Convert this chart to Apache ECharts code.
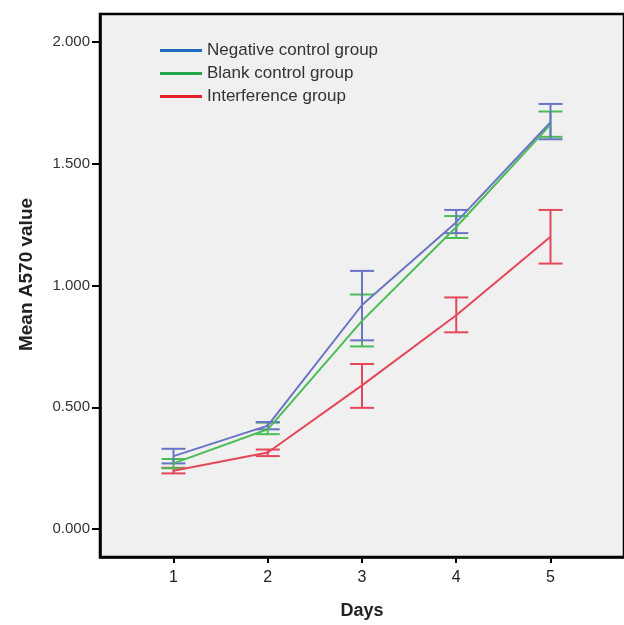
<!DOCTYPE html>
<html>
<head>
<meta charset="utf-8">
<script src="https://cdn.jsdelivr.net/npm/echarts@6/dist/echarts.min.js"></script>
<style>
	html, body { margin: 0; padding: 0; background: #fff; }
	#main { width: 624px; height: 625px; }
</style>
</head>
<body>
<div id="main"></div>
<script>
	// values
	var days = [1, 2, 3, 4, 5];
	var groupNames = ['Negative control group', 'Blank control group', 'Interference group'];

	var negMean = [0.30, 0.425, 0.92, 1.26, 1.67];
	var negLow = [0.27, 0.41, 0.775, 1.215, 1.60];
	var negHigh = [0.33, 0.44, 1.06, 1.31, 1.745];

	var blankMean = [0.27, 0.41, 0.855, 1.24, 1.66];
	var blankLow = [0.25, 0.39, 0.75, 1.195, 1.61];
	var blankHigh = [0.288, 0.437, 0.963, 1.285, 1.714];

	var interMean = [0.24, 0.315, 0.59, 0.878, 1.20];
	var interLow = [0.229, 0.30, 0.498, 0.808, 1.09];
	var interHigh = [0.252, 0.327, 0.678, 0.951, 1.31];

	var yTicks = [0, 0.5, 1, 1.5, 2];

	var lineColors = ['#6a74c4', '#4cbd55', '#e5475a'];
	var legendColors = ['#1f6fbf', '#22a84a', '#e8202a'];
	var font = 'Liberation Sans, Arial, sans-serif';

	function pairs(ys) {
		return days.map(function(d, i) { return [d, ys[i]]; });
	}

	function bars(lo, hi) {
		return days.map(function(d, i) { return [d, lo[i], hi[i]]; });
	}

	function errorSeries(data, color) {
		return {
			type: 'custom',
			data: data,
			z: 3,
			renderItem: function(params, api) {
				var top = api.coord([api.value(0), api.value(2)]);
				var bot = api.coord([api.value(0), api.value(1)]);
				var half = 12;
				var style = { stroke: color, lineWidth: 2 };
				return {
					type: 'group',
					children: [
						{ type: 'line', shape: { x1: top[0], y1: top[1], x2: bot[0], y2: bot[1] }, style: style },
						{ type: 'line', shape: { x1: top[0] - half, y1: top[1], x2: top[0] + half, y2: top[1] }, style: style },
						{ type: 'line', shape: { x1: bot[0] - half, y1: bot[1], x2: bot[0] + half, y2: bot[1] }, style: style }
					]
				};
			}
		};
	}

	function lineSeries(name, ys, color) {
		return {
			name: name,
			type: 'line',
			data: pairs(ys),
			symbol: 'none',
			z: 4,
			lineStyle: { color: color, width: 2 },
			itemStyle: { color: color }
		};
	}

	var chart = echarts.init(document.getElementById('main'));

	var option = {
		animation: false,
		backgroundColor: '#fff',
		grid: {
			show: true,
			left: 100,
			top: 14,
			width: 528,
			height: 546,
			backgroundColor: '#f0f0f0',
			borderColor: '#000',
			borderWidth: 2.5
		},
		legend: {
			orient: 'vertical',
			left: 155,
			top: 37,
			icon: 'rect',
			itemWidth: 42,
			itemHeight: 3,
			itemGap: 6,
			textStyle: { fontFamily: font, fontSize: 17, color: '#333' },
			data: groupNames.map(function(n, i) {
				return { name: n, itemStyle: { color: legendColors[i] } };
			})
		},
		xAxis: {
			type: 'value',
			min: 0.22,
			max: 5.78,
			name: 'Days',
			nameLocation: 'middle',
			nameGap: 45,
			nameTextStyle: { fontFamily: font, fontSize: 18, fontWeight: 'bold', color: '#222' },
			axisLine: { show: true, onZero: false, lineStyle: { color: '#000', width: 2.5 } },
			axisTick: { show: true, length: 6, lineStyle: { color: '#000', width: 2 }, customValues: days },
			axisLabel: { fontFamily: font, fontSize: 16, color: '#222', margin: 13, customValues: days },
			splitLine: { show: false }
		},
		yAxis: {
			type: 'value',
			min: -0.114,
			max: 2.114,
			name: 'Mean A570 value',
			nameLocation: 'middle',
			nameGap: 64,
			nameTextStyle: {
				fontFamily: font, fontSize: 19, fontWeight: 'bold', color: '#222',
				padding: [0, 0, 0, 22]
			},
			axisLine: { show: true, onZero: false, lineStyle: { color: '#000', width: 2.5 } },
			axisTick: { show: true, length: 8, lineStyle: { color: '#000', width: 2 }, customValues: yTicks },
			axisLabel: {
				fontFamily: font, fontSize: 15, color: '#333', margin: 10,
				customValues: yTicks,
				formatter: function(v) { return v.toFixed(3); }
			},
			splitLine: { show: false }
		},
		series: [
			errorSeries(bars(interLow, interHigh), lineColors[2]),
			errorSeries(bars(blankLow, blankHigh), lineColors[1]),
			errorSeries(bars(negLow, negHigh), lineColors[0]),
			lineSeries(groupNames[2], interMean, lineColors[2]),
			lineSeries(groupNames[1], blankMean, lineColors[1]),
			lineSeries(groupNames[0], negMean, lineColors[0])
		]
	};

	chart.setOption(option);
</script>
</body>
</html>
